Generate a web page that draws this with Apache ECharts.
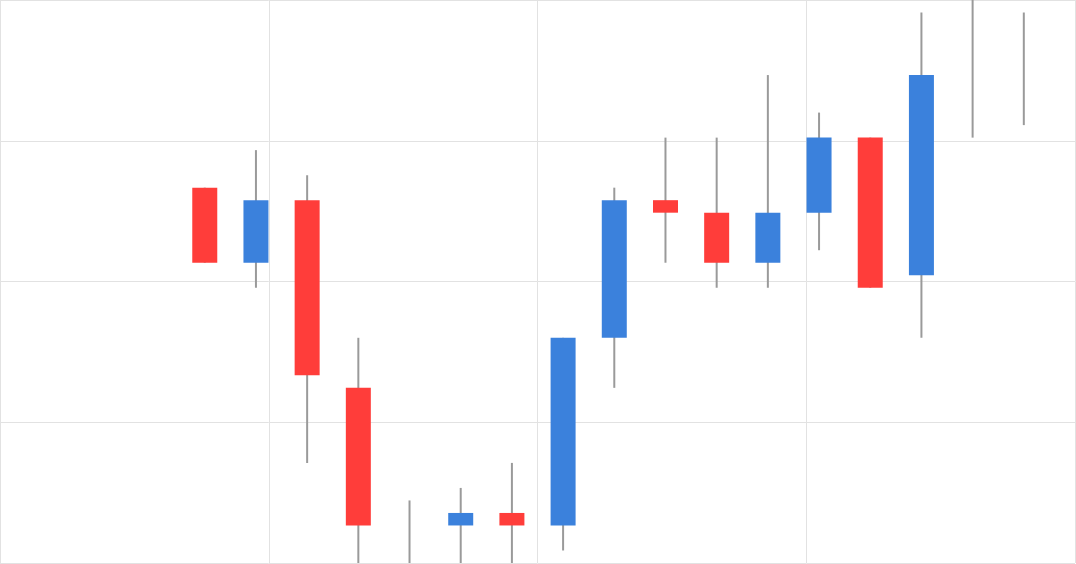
<!DOCTYPE html>
<html>
<head>
<meta charset="utf-8">
<script src="https://cdn.jsdelivr.net/npm/echarts@6/dist/echarts.min.js"></script>
<style>
html,body{margin:0;padding:0;background:#fff;}
#chart{width:1076px;height:564px;}
</style>
</head>
<body>
<div id="chart"></div>
<script>
// Session index of each candle on the x axis
const days   = [4, 5, 6, 7, 8, 9, 10, 11, 12, 13, 14, 15, 16, 17, 18, 19, 20];
const opens  = [30, 24, 29, 14, -1, 3, 4, 3, 18, 29, 28, 24, 28, 34, 23, 46, 35];
const closes = [24, 29, 15, 3, -3, 4, 3, 18, 29, 28, 24, 28, 34, 22, 39, 48, 35];
const lows   = [24, 22, 8, -1, -4, -1, -1, 1, 14, 24, 22, 22, 25, 22, 18, 34, 35];
const highs  = [30, 33, 31, 18, 5, 6, 8, 18, 30, 34, 34, 39, 36, 34, 44, 49, 44];

const UP = '#3b81dc', DOWN = '#ff3d3a', WICK = '#9a9a9a', GRID = '#e2e2e2';

const data = days.map((d, i) => [d, opens[i], closes[i], lows[i], highs[i]]);

const chart = echarts.init(document.getElementById('chart'));
chart.setOption({
  animation: false,
  grid: {left: 0, right: 1, top: 0, bottom: 1},
  xAxis: {
    type: 'value', min: 0, max: 21, interval: 5.25,
    axisLine: {show: false}, axisTick: {show: false}, axisLabel: {show: false},
    splitLine: {show: true, lineStyle: {color: GRID, width: 1}}
  },
  yAxis: {
    type: 'value', min: 0, max: 45, interval: 11.25,
    axisLine: {show: false}, axisTick: {show: false}, axisLabel: {show: false},
    splitLine: {show: true, lineStyle: {color: GRID, width: 1}}
  },
  series: [{
    type: 'custom',
    clip: true,
    data: data,
    encode: {x: 0, y: [1, 2, 3, 4]},
    renderItem: function (params, api) {
      const cs = params.coordSys;
      const top = cs.y, bottom = cs.y + cs.height;
      const x = api.value(0);
      const o = api.value(1), c = api.value(2), l = api.value(3), h = api.value(4);
      const pO = api.coord([x, o]), pC = api.coord([x, c]);
      const pL = api.coord([x, l]), pH = api.coord([x, h]);
      const cx = pO[0];
      const clampY = v => Math.max(top, Math.min(bottom, v));
      const children = [];
      const y1 = clampY(pH[1]), y2 = clampY(pL[1]);
      if (y2 > y1) {
        children.push({
          type: 'line',
          shape: {x1: cx, y1: y1, x2: cx, y2: y2},
          style: {stroke: WICK, lineWidth: 2}
        });
      }
      const w = 25;
      const by1 = clampY(Math.min(pO[1], pC[1]));
      const by2 = clampY(Math.max(pO[1], pC[1]));
      if (by2 > by1) {
        children.push({
          type: 'rect',
          shape: {x: cx - w / 2, y: by1, width: w, height: by2 - by1},
          style: {fill: c > o ? UP : DOWN}
        });
      }
      return {type: 'group', children: children};
    }
  }]
});
</script>
</body>
</html>
